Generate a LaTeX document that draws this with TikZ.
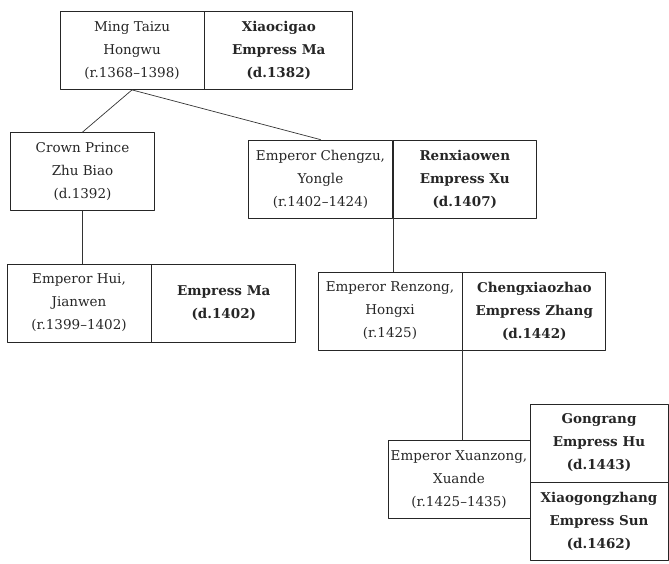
\documentclass[tikz,border=0pt]{standalone}
\usepackage{fontspec}
\setmainfont{DejaVu Serif}
\begin{document}
\begin{tikzpicture}[x=1pt, y=-1pt, line join=round, line cap=round,
		font=\fontsize{13.5}{23}\selectfont,
		ruler/.style={draw=black!85, line width=.8pt, minimum width=144pt, minimum height=78pt, inner sep=0pt, align=center, text=black!85},
		consort/.style={ruler, font=\fontsize{13.5}{23}\selectfont\bfseries},
		link/.style={draw=black!80, line width=.7pt}]
		\useasboundingbox (0,0) rectangle (669,563);
		% Hongwu
		\node[ruler] (hongwu) at (132,50.5) {Ming Taizu\\Hongwu\\(r.1368--1398)};
		\node[consort, minimum width=148pt, anchor=west] (xiaocigao) at (hongwu.east) {Xiaocigao\\Empress Ma\\(d.1382)};
		% sons
		\node[ruler] (biao) at (82.5,171.5) {Crown Prince\\Zhu Biao\\(d.1392)};
		\node[ruler] (yongle) at (320.5,179) {Emperor Chengzu,\\Yongle\\(r.1402--1424)};
		\node[consort, minimum width=143pt, anchor=west] (renxiaowen) at (yongle.east) {Renxiaowen\\Empress Xu\\(d.1407)};
		% grandsons
		\node[ruler] (jianwen) at (79,303) {Emperor Hui,\\Jianwen\\(r.1399--1402)};
		\node[consort, anchor=west] (empma) at (jianwen.east) {Empress Ma\\(d.1402)};
		\node[ruler] (hongxi) at (390,311) {Emperor Renzong,\\Hongxi\\(r.1425)};
		\node[consort, minimum width=143pt, anchor=west] (chengxiaozhao) at (hongxi.east) {Chengxiaozhao\\Empress Zhang\\(d.1442)};
		% Xuande
		\node[ruler, minimum width=142pt] (xuande) at (459,479.5) {Emperor Xuanzong,\\Xuande\\(r.1425--1435)};
		\node[consort, minimum width=138pt] (gongrang) at (599,443) {Gongrang\\Empress Hu\\(d.1443)};
		\node[consort, minimum width=138pt] (xiaogongzhang) at (599,521) {Xiaogongzhang\\Empress Sun\\(d.1462)};
		% lines
		\draw[link] (hongwu.south) -- (biao.north);
		\draw[link] (hongwu.south) -- (yongle.north);
		\draw[link] (biao.south) -- (biao.south |- jianwen.north);
		\draw[link] (yongle.south east) -- (yongle.south east |- hongxi.north);
		\draw[link] (hongxi.south east) -- (hongxi.south east |- xuande.north);
\end{tikzpicture}
\end{document}
